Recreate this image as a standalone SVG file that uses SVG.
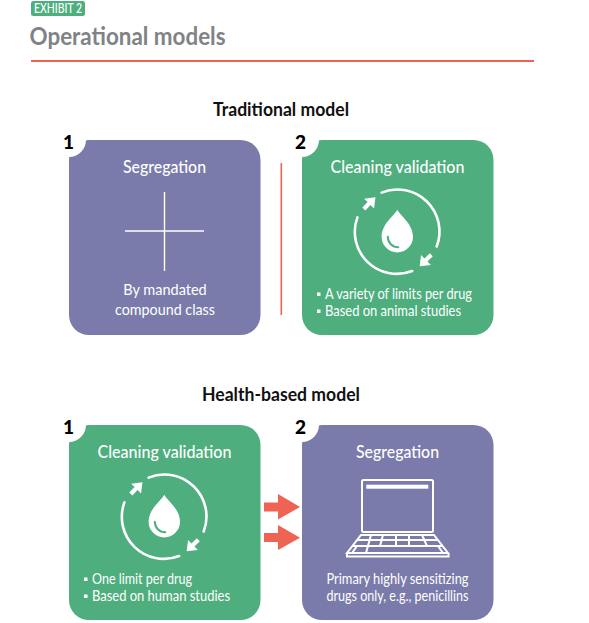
<svg xmlns="http://www.w3.org/2000/svg" xmlns:xlink="http://www.w3.org/1999/xlink" width="589" height="623" viewBox="0 0 589 623">
<style>
text{font-family:"Lato","Liberation Sans",sans-serif;fill:#fff}
.t{font-size:18px;font-weight:500;text-anchor:middle}
.b{font-size:15px;text-anchor:middle}
.l{font-size:15px}
.h{font-size:18px;font-weight:700;fill:#111;text-anchor:middle}
.n{font-size:19px;font-weight:900;fill:#000;text-anchor:middle}
.g{fill:#4eae7e}.p{fill:#7a7bab}
.w{fill:none;stroke:#fff;stroke-width:2.6;stroke-linecap:round}
.k{fill:none;stroke:#fff;stroke-width:2}
.a{fill:#ee6352}
</style>
<defs>
<path id="ar" fill="#fff" d="M0-2.100H7.500V-7L16.500 0 7.500 7V2.100H0Z"/>
<g id="cycle">
<path class="w" d="M-15.700-39.100A42 42 0 0 1 39.400 14.800"/>
<path class="w" d="M14.800 39.300A42 42 0 0 1-39.900-14.300"/>
<use xlink:href="#ar" href="#ar" transform="translate(-33.500 -22.800) rotate(-45)"/>
<use xlink:href="#ar" href="#ar" transform="translate(34 23) rotate(135)"/>
<path fill="#fff" d="M0-22C-3-16-15.700-8-15.700 5A15.700 15.700 0 0 0 15.700 5C15.700-8 3-16 0-22z"/>
<path fill="none" stroke="#4eae7e" stroke-width="2" stroke-linecap="round" d="M-9.500 5C-9.500 11-5 15.500 1 15.500"/>
</g>
</defs>
<g id="header">
<rect x="31" y="1" width="54" height="15" rx="2.500" class="g"/>
<text x="34" y="12.800" style="font-size:12.500px;font-weight:500" textLength="48" lengthAdjust="spacingAndGlyphs">EXHIBIT 2</text>
<text x="29.500" y="45" style="font-size:25px;font-weight:700;fill:#808285" textLength="196" lengthAdjust="spacingAndGlyphs">Operational models</text>
<rect x="31" y="60" width="503" height="2" class="a"/>
</g>
<text x="281" y="116" class="h" textLength="136" lengthAdjust="spacingAndGlyphs">Traditional model</text>
<text x="281" y="401" class="h" textLength="158" lengthAdjust="spacingAndGlyphs">Health-based model</text>
<g id="node-t1">
<rect x="69" y="140" width="191.500" height="195" rx="20" class="p"/>
<circle cx="69" cy="140" r="17" fill="#fff"/>
<text x="68.500" y="148.500" class="n">1</text>
<text x="164.500" y="173" class="t" textLength="83" lengthAdjust="spacingAndGlyphs">Segregation</text>
<path d="M164.500 192v79M125 231h79" stroke="#fff" stroke-width="1.400" fill="none"/>
<text x="165" y="295" class="b" textLength="83.500" lengthAdjust="spacingAndGlyphs">By mandated</text>
<text x="165" y="315" class="b" textLength="100" lengthAdjust="spacingAndGlyphs">compound class</text>
</g>
<g id="node-t2">
<rect x="302" y="140" width="191.500" height="195" rx="20" class="g"/>
<circle cx="302" cy="140" r="17" fill="#fff"/>
<text x="300.500" y="148.500" class="n">2</text>
<text x="397.500" y="173" class="t" textLength="134" lengthAdjust="spacingAndGlyphs">Cleaning validation</text>
<use xlink:href="#cycle" href="#cycle" x="397.300" y="231.700"/>
<rect x="317" y="292.500" width="3.500" height="3.500" fill="#fff"/>
<text x="325" y="299" class="l" textLength="147" lengthAdjust="spacingAndGlyphs">A variety of limits per drug</text>
<rect x="317" y="309.500" width="3.500" height="3.500" fill="#fff"/>
<text x="325" y="316" class="l" textLength="136" lengthAdjust="spacingAndGlyphs">Based on animal studies</text>
</g>
<g id="node-h1">
<rect x="69" y="425" width="191.500" height="195" rx="20" class="g"/>
<circle cx="69" cy="425" r="17" fill="#fff"/>
<text x="68.500" y="433.500" class="n">1</text>
<text x="164.500" y="458" class="t" textLength="134" lengthAdjust="spacingAndGlyphs">Cleaning validation</text>
<use xlink:href="#cycle" href="#cycle" x="164.300" y="516.700"/>
<rect x="84" y="577.500" width="3.500" height="3.500" fill="#fff"/>
<text x="92" y="584" class="l" textLength="100" lengthAdjust="spacingAndGlyphs">One limit per drug</text>
<rect x="84" y="594.500" width="3.500" height="3.500" fill="#fff"/>
<text x="92" y="601" class="l" textLength="138" lengthAdjust="spacingAndGlyphs">Based on human studies</text>
</g>
<g id="node-h2">
<rect x="302" y="425" width="191.500" height="195" rx="20" class="p"/>
<circle cx="302" cy="425" r="17" fill="#fff"/>
<text x="300.500" y="433.500" class="n">2</text>
<text x="397.500" y="458" class="t" textLength="83" lengthAdjust="spacingAndGlyphs">Segregation</text>
<rect x="362" y="480" width="71" height="52" rx="1.500" class="k"/>
<rect x="366.300" y="484.700" width="62" height="4" fill="#fff"/>
<path class="k" d="M361 535H434L448 553H347ZM357 540H438M352 546H443M371 535L366 553M383 535L380 546M396 535V546M409 535V546M422 535L427 546M357 546L352 553M438 546L443 553M372 553H425"/>
<path class="k" d="M347 553V556.500H448.500V553" />
<text x="397.500" y="584" class="b" textLength="142" lengthAdjust="spacingAndGlyphs">Primary highly sensitizing</text>
<text x="397.500" y="601" class="b" textLength="142" lengthAdjust="spacingAndGlyphs">drugs only, e.g., penicillins</text>
</g>
<g id="connectors">
<path class="a" d="M280.500 163h1.600v152h-1.600z" />
<path class="a" d="M264 502.500H278V494L300 507 278 519.500V511.500H264Z"/>
<path class="a" d="M264 533H278V525L300 537.700 278 550V542H264Z"/>
</g>
</svg>
